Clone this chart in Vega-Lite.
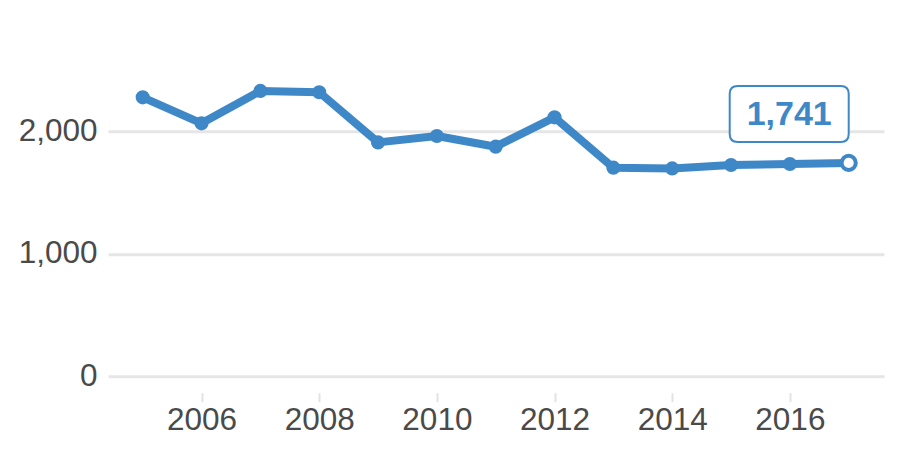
{
  "$schema": "https://vega.github.io/schema/vega-lite/v6.json",
  "autosize": "none",
  "width": 776,
  "height": 368.4,
  "padding": {"left": 108, "top": 8.3, "right": 16, "bottom": 73.3},
  "background": "white",
  "config": {
    "view": {"stroke": null},
    "font": "Liberation Sans"
  },
  "data": {
    "values": [
      {"year": 2005, "value": 2275},
      {"year": 2006, "value": 2063},
      {"year": 2007, "value": 2327},
      {"year": 2008, "value": 2316},
      {"year": 2009, "value": 1908},
      {"year": 2010, "value": 1960},
      {"year": 2011, "value": 1873},
      {"year": 2012, "value": 2112},
      {"year": 2013, "value": 1702},
      {"year": 2014, "value": 1696},
      {"year": 2015, "value": 1724},
      {"year": 2016, "value": 1732},
      {"year": 2017, "value": 1741}
    ]
  },
  "encoding": {
    "x": {
      "field": "year",
      "type": "quantitative",
      "scale": {"domain": [2004.41, 2017.6], "nice": false, "zero": false},
      "axis": {
        "title": null,
        "values": [2006, 2008, 2010, 2012, 2014, 2016],
        "format": "d",
        "grid": false,
        "domain": false,
        "offset": 16,
        "tickSize": 9,
        "tickWidth": 2,
        "tickColor": "#e3e3e3",
        "labelFontSize": 31.5,
        "labelColor": "#4a4a4a",
        "labelPadding": 3,
        "labelFont": "Liberation Sans"
      }
    },
    "y": {
      "field": "value",
      "type": "quantitative",
      "scale": {"domain": [0, 3000], "nice": false},
      "axis": {
        "title": null,
        "values": [0, 1000, 2000],
        "format": ",d",
        "grid": true,
        "gridColor": "#e6e6e6",
        "gridWidth": 3,
        "domain": false,
        "ticks": false,
        "labelFontSize": 31.5,
        "labelColor": "#4a4a4a",
        "labelPadding": 11,
        "labelFont": "Liberation Sans"
      }
    }
  },
  "layer": [
    {
      "mark": {"type": "line", "color": "#3f88c8", "strokeWidth": 8, "strokeJoin": "round", "strokeCap": "round"}
    },
    {
      "transform": [{"filter": "datum.year < 2017"}],
      "mark": {"type": "point", "filled": true, "color": "#3f88c8", "size": 200, "opacity": 1}
    },
    {
      "transform": [{"filter": "datum.year == 2017"}],
      "mark": {"type": "point", "filled": true, "fill": "white", "stroke": "#3f88c8", "strokeWidth": 4, "size": 200, "opacity": 1}
    },
    {
      "transform": [{"filter": "datum.year == 2017"}],
      "mark": {
        "type": "point",
        "shape": "M -0.866 -0.471 Q -1 -0.471 -1 -0.337 L -1 0.337 Q -1 0.471 -0.866 0.471 L 0.866 0.471 Q 1 0.471 1 0.337 L 1 -0.337 Q 1 -0.471 0.866 -0.471 Z",
        "filled": true,
        "fill": "white",
        "stroke": "#3f88c8",
        "strokeWidth": 2,
        "size": 14161,
        "opacity": 1,
        "xOffset": -59.5,
        "yOffset": -49
      }
    },
    {
      "transform": [{"filter": "datum.year == 2017"}],
      "mark": {
        "type": "text",
        "font": "Liberation Sans",
        "fontSize": 34,
        "fontWeight": "bold",
        "color": "#3f88c8",
        "align": "center",
        "baseline": "middle",
        "dx": -59.5,
        "dy": -48
      },
      "encoding": {"text": {"field": "value", "type": "quantitative", "format": ",d"}}
    }
  ]
}
